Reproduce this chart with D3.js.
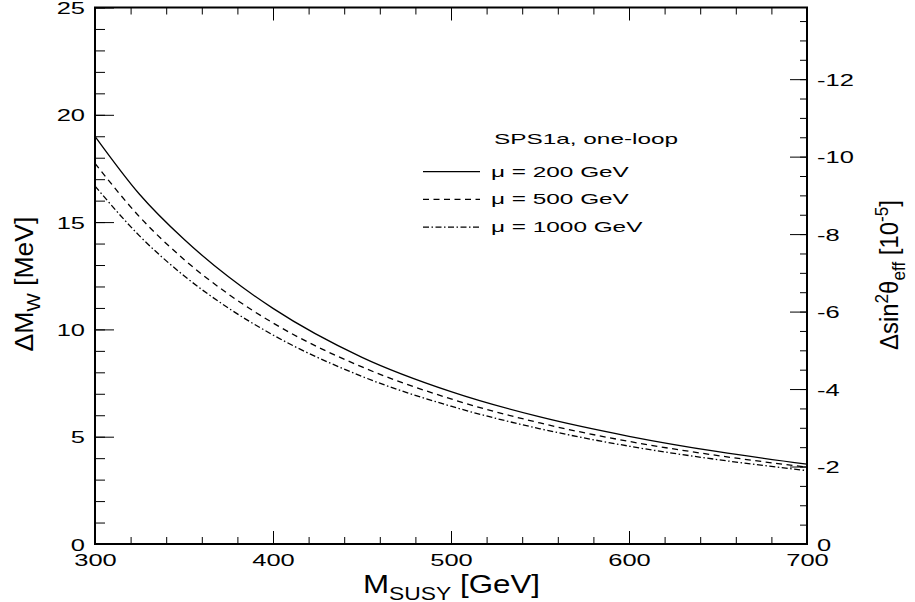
<!DOCTYPE html>
<html>
<head>
<meta charset="utf-8">
<script src="https://cdn.jsdelivr.net/npm/d3@7"></script>
<style>
  body { margin: 0; background: #fff; }
  svg { display: block; }
  text { font-family: "Liberation Sans", Arial, Helvetica, sans-serif; fill: #000; }
</style>
</head>
<body>
<div id="chart"></div>
<script>
// values
const mSusy  = [300, 325, 350, 375, 400, 450, 500, 550, 600, 650, 700];
const mu200  = [19.0, 16.3, 14.2, 12.45, 10.98, 8.70, 7.10, 5.92, 5.02, 4.30, 3.72];
const mu500  = [17.74, 15.25, 13.26, 11.64, 10.30, 8.25, 6.76, 5.64, 4.78, 4.12, 3.58];
const mu1000 = [16.68, 14.36, 12.50, 10.99, 9.74, 7.81, 6.42, 5.37, 4.56, 3.93, 3.42];

const seriesNames = ["\u03bc = 200 GeV", "\u03bc = 500 GeV", "\u03bc = 1000 GeV"];
const legendTitle = "SPS1a, one-loop";

const xMajor = [300, 400, 500, 600, 700];
const xMinor = d3.range(300, 701, 20);
const yMajor = [0, 5, 10, 15, 20, 25];
const yMinor = d3.range(0, 26, 1);
const rMajor = [0, -2, -4, -6, -8, -10, -12];
const rMinor = d3.range(0, -13.9, -0.5);

const width = 915, height = 602;
const margin = {top: 7.5, right: 108, bottom: 58, left: 95};

const svg = d3.select("#chart").append("svg")
    .attr("width", width)
    .attr("height", height);

const x = d3.scaleLinear().domain([300, 700]).range([margin.left, width - margin.right]);
const y = d3.scaleLinear().domain([0, 25]).range([height - margin.bottom, margin.top]);
const yR = d3.scaleLinear().domain([0, -13.85]).range([height - margin.bottom, margin.top]);

const x0 = x.range()[0], x1 = x.range()[1];
const y0 = y.range()[0], y1 = y.range()[1];

// helper: draw a tick axis without domain line
function tickAxis(axis, tx, ty) {
    const g = svg.append("g")
        .attr("transform", `translate(${tx},${ty})`)
        .call(axis);
    g.select(".domain").remove();
    g.selectAll("line").attr("stroke", "#000").attr("stroke-width", 1);
    return g;
}

// minor ticks (inward)
tickAxis(d3.axisLeft(y).tickValues(yMinor).tickSize(-10).tickFormat(""), x0, 0);
tickAxis(d3.axisRight(yR).tickValues(rMinor).tickSize(-7).tickFormat(""), x1, 0);
tickAxis(d3.axisBottom(x).tickValues(xMinor).tickSize(-7).tickFormat(""), 0, y0);
tickAxis(d3.axisTop(x).tickValues(xMinor).tickSize(-7).tickFormat(""), 0, y1);

// major ticks with labels
const tickFont = 17, tickStretch = 1.5;

const gl = tickAxis(d3.axisLeft(y).tickValues(yMajor).tickSize(-19).tickFormat(d => String(d)), x0, 0);
gl.selectAll("text")
    .attr("x", 0).attr("dy", null).attr("y", 0)
    .attr("text-anchor", "end")
    .style("font-size", tickFont + "px")
    .attr("transform", `translate(-10,6) scale(${tickStretch},1)`);

const gr = tickAxis(d3.axisRight(yR).tickValues(rMajor).tickSize(-17).tickFormat(d => String(d)), x1, 0);
gr.selectAll("text")
    .attr("x", 0).attr("dy", null).attr("y", 0)
    .attr("text-anchor", "start")
    .style("font-size", tickFont + "px")
    .attr("transform", `translate(10,6) scale(${tickStretch},1)`);

const gb = tickAxis(d3.axisBottom(x).tickValues(xMajor).tickSize(-13).tickFormat(d => String(d)), 0, y0);
gb.selectAll("text")
    .attr("x", 0).attr("dy", null).attr("y", 0)
    .attr("text-anchor", "middle")
    .style("font-size", tickFont + "px")
    .attr("transform", `translate(0,21.7) scale(${tickStretch},1)`);

tickAxis(d3.axisTop(x).tickValues(xMajor).tickSize(-13).tickFormat(""), 0, y1);

svg.selectAll(".tick text").attr("fill", "#000");

// frame
svg.append("rect")
    .attr("x", x0).attr("y", y1)
    .attr("width", x1 - x0).attr("height", y0 - y1)
    .attr("fill", "none")
    .attr("stroke", "#000")
    .attr("stroke-width", 2);

// curves
const dashes = [null, "6,4.5", "6,2.5,1.5,2.5"];
const series = [mu200, mu500, mu1000];

const line = d3.line()
    .x(d => x(d[0]))
    .y(d => y(d[1]))
    .curve(d3.curveMonotoneX);

series.forEach((vals, i) => {
    svg.append("path")
        .datum(mSusy.map((m, j) => [m, vals[j]]))
        .attr("fill", "none")
        .attr("stroke", "#000")
        .attr("stroke-width", 1.3)
        .attr("stroke-dasharray", dashes[i])
        .attr("d", line);
});

// stretch a text (placed at 0,0) to a target width
function fit(text, target) {
    const w = text.node().getComputedTextLength();
    return target / w;
}

// legend
const legFont = 14.5, legStretch = 1.68;
svg.append("text")
    .attr("transform", `translate(494,144) scale(${legStretch},1)`)
    .style("font-size", legFont + "px")
    .text(legendTitle);

seriesNames.forEach((name, i) => {
    const ly = 171.7 + i * 27.7;
    svg.append("line")
        .attr("x1", 423).attr("x2", 480)
        .attr("y1", ly).attr("y2", ly)
        .attr("stroke", "#000")
        .attr("stroke-width", 1.2)
        .attr("stroke-dasharray", dashes[i]);
    svg.append("text")
        .attr("transform", `translate(491,${ly + 5}) scale(${legStretch},1)`)
        .style("font-size", legFont + "px")
        .text(name);
});

// x title
const xt = svg.append("text")
    .attr("text-anchor", "middle")
    .style("font-size", "26px");
xt.append("tspan").text("M");
xt.append("tspan").attr("dy", 7.3).style("font-size", "19px").text("SUSY");
xt.append("tspan").attr("dy", -7.3).text(" [GeV]");
xt.attr("transform", `translate(451.5,592.7) scale(${fit(xt, 177)},1)`);

// left y title
const yt = svg.append("text")
    .attr("text-anchor", "middle")
    .style("font-size", "26px");
yt.append("tspan").text("\u0394M");
yt.append("tspan").attr("dy", 7).style("font-size", "19px").text("W");
yt.append("tspan").attr("dy", -7).text(" [MeV]");
yt.attr("transform", `translate(33,284) rotate(-90) scale(${fit(yt, 135)},1)`);

// right y title
const rt = svg.append("text")
    .attr("text-anchor", "middle")
    .style("font-size", "25px");
rt.append("tspan").text("\u0394sin");
rt.append("tspan").attr("dy", -10).style("font-size", "18px").text("2");
rt.append("tspan").attr("dy", 10).text("\u03b8");
rt.append("tspan").attr("dy", 7).style("font-size", "18px").text("eff");
rt.append("tspan").attr("dy", -7).text(" [10");
rt.append("tspan").attr("dy", -10).style("font-size", "18px").text("-5");
rt.append("tspan").attr("dy", 10).text("]");
rt.attr("transform", `translate(898,275) rotate(-90) scale(${fit(rt, 150)},1)`);
</script>
</body>
</html>
